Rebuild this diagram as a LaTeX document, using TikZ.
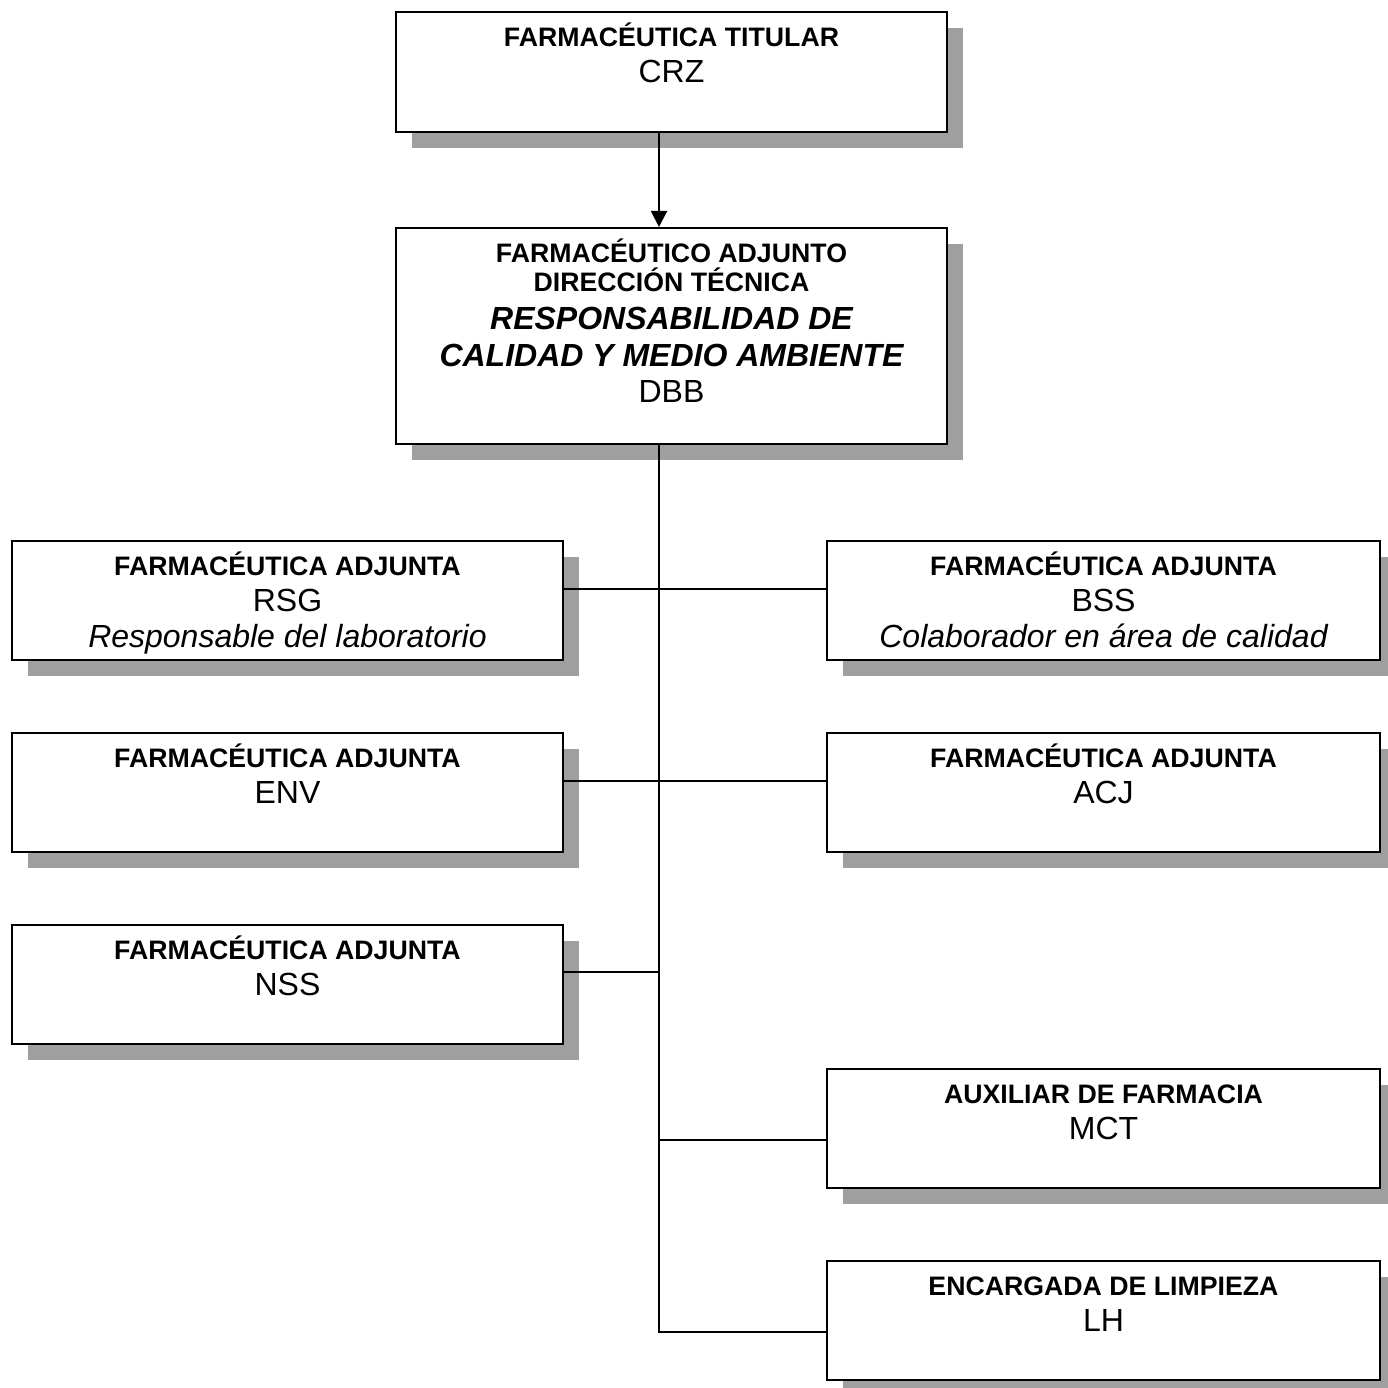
\documentclass[tikz,border=0pt]{standalone}
\usepackage{fontspec}
\setmainfont{Liberation Sans}
\usetikzlibrary{shadows,arrows.meta,calc}
\newcommand{\ttlfont}{\fontsize{26.7}{30}\selectfont\bfseries}
\newcommand{\namefont}{\fontsize{32}{36}\selectfont}
\newcommand{\bigfont}{\fontsize{32}{36}\selectfont\bfseries\itshape}
\newcommand{\itfont}{\fontsize{32}{36}\selectfont\itshape}
\begin{document}
\begin{tikzpicture}[x=1pt,y=-1pt,
  orgbox/.style={draw=black, line width=2pt, fill=white, rectangle, inner sep=0pt,
    minimum width=551pt, minimum height=119pt,
    drop shadow={shadow xshift=16pt, shadow yshift=-16pt, fill=gray!75, opacity=1}},
  txt/.style={anchor=base, inner sep=0pt},
  conn/.style={line width=2pt}]
\useasboundingbox (0,0) rectangle (1387,1388);
\fill[white] (0,0) rectangle (1387,1388);
% boxes
\node[orgbox, minimum height=120pt] (top) at (671.5,72) {};
\node[orgbox, minimum height=216pt] (dir) at (671.5,336) {};
\node[orgbox] (l1) at (287.5,600.5) {};
\node[orgbox] (l2) at (287.5,792.5) {};
\node[orgbox] (l3) at (287.5,984.5) {};
\node[orgbox, minimum width=553pt] (r1) at (1103.5,600.5) {};
\node[orgbox, minimum width=553pt] (r2) at (1103.5,792.5) {};
\node[orgbox, minimum width=553pt] (r3) at (1103.5,1128.5) {};
\node[orgbox, minimum width=553pt] (r4) at (1103.5,1320.5) {};
% texts
\node[txt, font=\ttlfont] (topt) at ([yshift=-35.5pt]top.north) {FARMACÉUTICA TITULAR};
\node[txt, font=\namefont] (topn) at ([yshift=-71.5pt]top.north) {CRZ};
\node[txt, font=\ttlfont] (dirt1) at ([yshift=-35.5pt]dir.north) {FARMACÉUTICO ADJUNTO};
\node[txt, font=\ttlfont] (dirt2) at ([yshift=-64.5pt]dir.north) {DIRECCIÓN TÉCNICA};
\node[txt, font=\bigfont] (dirt3) at ([yshift=-102.5pt]dir.north) {RESPONSABILIDAD DE};
\node[txt, font=\bigfont] (dirt4) at ([yshift=-139.5pt]dir.north) {CALIDAD Y MEDIO AMBIENTE};
\node[txt, font=\namefont] (dirn) at ([yshift=-175.5pt]dir.north) {DBB};
\node[txt, font=\ttlfont] (l1t) at ([yshift=-35pt]l1.north) {FARMACÉUTICA ADJUNTA};
\node[txt, font=\namefont] (l1n) at ([yshift=-71.5pt]l1.north) {RSG};
\node[txt, font=\itfont] (l1i) at ([yshift=-107.5pt]l1.north) {Responsable del laboratorio};
\node[txt, font=\ttlfont] (l2t) at ([yshift=-35pt]l2.north) {FARMACÉUTICA ADJUNTA};
\node[txt, font=\namefont] (l2n) at ([yshift=-71.5pt]l2.north) {ENV};
\node[txt, font=\ttlfont] (l3t) at ([yshift=-35pt]l3.north) {FARMACÉUTICA ADJUNTA};
\node[txt, font=\namefont] (l3n) at ([yshift=-71.5pt]l3.north) {NSS};
\node[txt, font=\ttlfont] (r1t) at ([yshift=-35pt]r1.north) {FARMACÉUTICA ADJUNTA};
\node[txt, font=\namefont] (r1n) at ([yshift=-71.5pt]r1.north) {BSS};
\node[txt, font=\itfont] (r1i) at ([yshift=-107.5pt]r1.north) {Colaborador en área de calidad};
\node[txt, font=\ttlfont] (r2t) at ([yshift=-35pt]r2.north) {FARMACÉUTICA ADJUNTA};
\node[txt, font=\namefont] (r2n) at ([yshift=-71.5pt]r2.north) {ACJ};
\node[txt, font=\ttlfont] (r3t) at ([yshift=-35pt]r3.north) {AUXILIAR DE FARMACIA};
\node[txt, font=\namefont] (r3n) at ([yshift=-71.5pt]r3.north) {MCT};
\node[txt, font=\ttlfont] (r4t) at ([yshift=-35pt]r4.north) {ENCARGADA DE LIMPIEZA};
\node[txt, font=\namefont] (r4n) at ([yshift=-71.5pt]r4.north) {LH};
% connectors
\coordinate (spine) at (659,1332);
\coordinate (j1) at (659,589);
\coordinate (j2) at (659,781);
\coordinate (j3) at (659,972);
\coordinate (j4) at (659,1140);
\draw[conn, -{Triangle[width=16pt,length=16pt]}] (top.south -| spine) -- (dir.north -| spine);
\draw[conn] (dir.south -| spine) -- (spine) -- (r4.west |- spine);
\draw[conn] (l1.east |- j1) -- (r1.west |- j1);
\draw[conn] (l2.east |- j2) -- (r2.west |- j2);
\draw[conn] (l3.east |- j3) -- (j3);
\draw[conn] (j4) -- (r3.west |- j4);
\end{tikzpicture}
\end{document}
